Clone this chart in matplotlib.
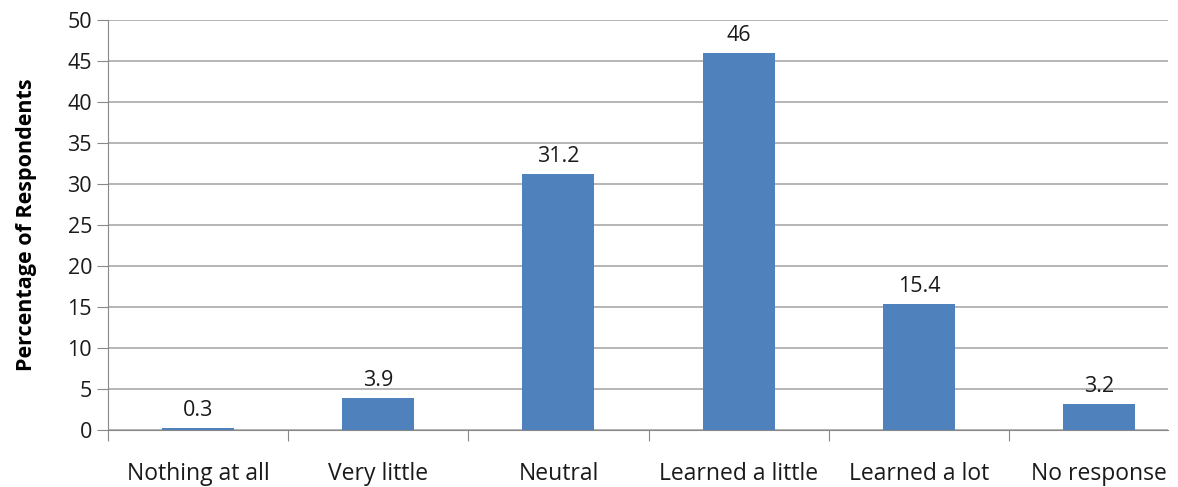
import matplotlib
matplotlib.use("Agg")
import matplotlib.pyplot as plt
import numpy as np

categories = ["Nothing at all", "Very little", "Neutral", "Learned a little", "Learned a lot", "No response"]
percentages = [0.3, 3.9, 31.2, 46, 15.4, 3.2]
value_labels = ["0.3", "3.9", "31.2", "46", "15.4", "3.2"]
y_ticks = [0, 5, 10, 15, 20, 25, 30, 35, 40, 45, 50]

plt.rcParams["font.family"] = ["Open Sans", "DejaVu Sans"]

fig = plt.figure(figsize=(11.78, 4.87), dpi=100)
ax = fig.add_axes([108 / 1178, 57 / 487, 1060 / 1178, 410 / 487])

x = np.arange(len(categories))
ax.bar(x, percentages, width=0.4, color="#4F81BD", zorder=3)

for xi, v, lab in zip(x, percentages, value_labels):
    ax.annotate(lab, (xi, v), xytext=(0, 5), textcoords="offset points",
                ha="center", va="bottom", fontsize=15.5, color="#1a1a1a")

# the original chart is clipped on the right, so the last slot is cut short
ax.set_xlim(-0.5, 5.383)
ax.set_ylim(0, 50)
ax.set_yticks(y_ticks)
ax.tick_params(axis="y", labelsize=15.5, length=8, color="#888888", labelcolor="#1a1a1a")
ax.yaxis.grid(True, color="#b0b0b0", linewidth=1.3, zorder=0)

# category labels centred, ticks on boundaries
ax.set_xticks(np.arange(-0.5, len(categories) - 0.5, 1))
ax.set_xticklabels([])
ax.set_xticks(x, minor=True)
ax.set_xticklabels(categories, minor=True)
ax.tick_params(axis="x", which="major", length=8, color="#888888")
ax.tick_params(axis="x", which="minor", length=0, pad=23, labelsize=16.5, labelcolor="#1a1a1a")

for s in ["top", "right"]:
    ax.spines[s].set_visible(False)
for s in ["left", "bottom"]:
    ax.spines[s].set_color("#888888")

ax.set_ylabel("Percentage of Respondents", fontsize=15.5, fontweight="bold", labelpad=22)

fig.savefig("out.png", dpi=100)
